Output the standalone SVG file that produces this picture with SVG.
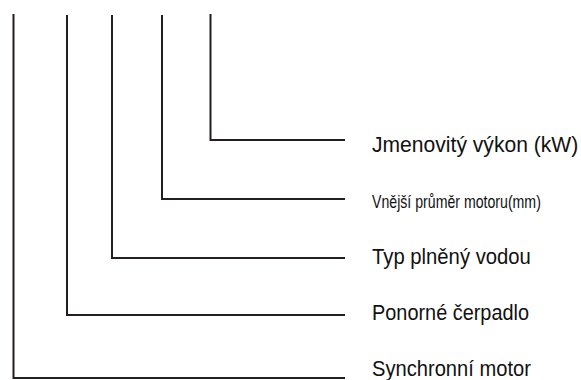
<svg xmlns="http://www.w3.org/2000/svg" width="581" height="380" viewBox="0 0 581 380">
<style>
.c{fill:none;stroke:#231f20;stroke-width:2;stroke-linejoin:miter}
.t{font-family:"Liberation Sans",Arial,sans-serif;font-size:22px;fill:#111}
</style>
<rect width="581" height="380" fill="#fff"/>
<g id="connectors">
<polyline class="c" points="210.5,14 210.5,140 345,140"/>
<polyline class="c" points="162,15 162,199 345,199"/>
<polyline class="c" points="112,15 112,258 345,258"/>
<polyline class="c" points="67,15 67,315 345,315"/>
<polyline class="c" points="13.5,14 13.5,378 345,378"/>
</g>
<g id="n1"><text class="t" transform="translate(372,152) scale(0.959,1)">Jmenovitý výkon (kW)</text></g>
<g id="n2"><text class="t" style="font-size:18px" transform="translate(372,208) scale(0.786,1)">Vnější průměr motoru(mm)</text></g>
<g id="n3"><text class="t" transform="translate(372,264) scale(0.922,1)">Typ plněný vodou</text></g>
<g id="n4"><text class="t" transform="translate(372,320) scale(0.904,1)">Ponorné čerpadlo</text></g>
<g id="n5"><text class="t" transform="translate(372,376) scale(0.916,1)">Synchronní motor</text></g>
</svg>
